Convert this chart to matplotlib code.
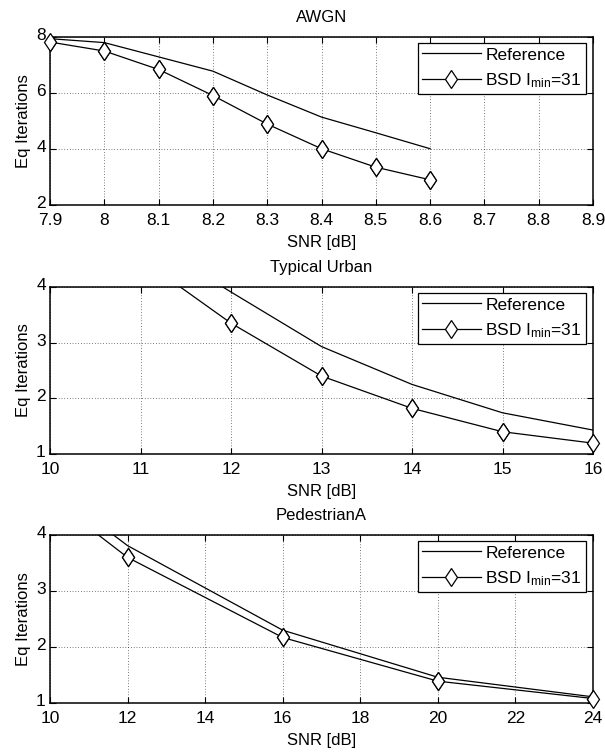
import matplotlib
matplotlib.use("Agg")
import matplotlib.pyplot as plt
import matplotlib.transforms as mtransforms
import numpy as np

plt.rcParams['font.family'] = ['Liberation Sans', 'DejaVu Sans']
plt.rcParams['mathtext.fontset'] = 'custom'
plt.rcParams['mathtext.rm'] = 'Liberation Sans'
plt.rcParams['mathtext.it'] = 'Liberation Sans'
plt.rcParams['font.size'] = 12

# ---- Data ----
awgn_snr = [7.9, 8.0, 8.1, 8.2, 8.3, 8.4, 8.5, 8.6]
awgn_ref = [7.94, 7.80, 7.29, 6.78, 5.93, 5.14, 4.58, 4.01]
awgn_bsd = [7.82, 7.50, 6.84, 5.91, 4.89, 4.01, 3.35, 2.90]

tu_snr = [11, 12, 13, 14, 15, 16]
tu_ref = [4.91, 3.91, 2.93, 2.25, 1.74, 1.43]
tu_bsd = [4.51, 3.35, 2.40, 1.82, 1.40, 1.195]

pa_snr = [8, 12, 16, 20, 24]
pa_ref = [5.90, 3.81, 2.30, 1.46, 1.11]
pa_bsd = [5.73, 3.60, 2.17, 1.39, 1.08]

titles = ['AWGN', 'Typical Urban', 'PedestrianA']
xlims = [(7.9, 8.9), (10, 16), (10, 24)]
xticks = [np.round(np.arange(7.9, 8.91, 0.1), 1), np.arange(10, 17, 1), np.arange(10, 25, 2)]
xticklabels = [['7.9', '8', '8.1', '8.2', '8.3', '8.4', '8.5', '8.6', '8.7', '8.8', '8.9'],
               [str(v) for v in range(10, 17)],
               [str(v) for v in range(10, 25, 2)]]
ylims = [(2, 8), (1, 4), (1, 4)]
yticks = [[2, 4, 6, 8], [1, 2, 3, 4], [1, 2, 3, 4]]

datasets = [(awgn_snr, awgn_ref, awgn_bsd), (tu_snr, tu_ref, tu_bsd), (pa_snr, pa_ref, pa_bsd)]

fig = plt.figure(figsize=(6.05, 7.53), dpi=100)
W, H = 605.0, 753.0
left_px, right_px = 50, 593
panels_px = [(37, 205), (287, 454), (535, 703)]

for i, (top, bot) in enumerate(panels_px):
    ax = fig.add_axes([left_px / W, 1 - bot / H, (right_px - left_px) / W, (bot - top) / H])
    x, ref, bsd = datasets[i]
    x = np.array(x); ref = np.array(ref); bsd = np.array(bsd)
    ax.plot(x, ref, color='black', lw=0.9, label='Reference')
    ax.plot(x, bsd, color='black', lw=0.9, marker='d', ms=9.5, mfc='white', mec='black',
            mew=0.9, label=r'BSD I$_{\rm min}$=31')
    vis = bsd <= ylims[i][1]
    ax.plot(x[vis], bsd[vis], ls='none', marker='d', ms=9.5, mfc='white', mec='black',
            mew=0.9, clip_on=False, zorder=5)
    ax.set_xlim(*xlims[i])
    ax.set_ylim(*ylims[i])
    ax.set_xticks(xticks[i])
    ax.set_xticklabels(xticklabels[i])
    ax.set_yticks(yticks[i])
    ax.grid(True, ls=(0, (1, 3)), color='black', lw=0.5)
    ax.tick_params(direction='in', top=True, right=True, length=4, width=0.8,
                   labelsize=12.5)
    ax.tick_params(axis='x', pad=5.5)
    ax.tick_params(axis='y', pad=3)
    shift = mtransforms.ScaledTranslation(0, 3 / 100.0, fig.dpi_scale_trans)
    for lab in ax.get_yticklabels():
        lab.set_transform(lab.get_transform() + shift)
    for s in ax.spines.values():
        s.set_linewidth(1.1)
    ax.set_title(titles[i], fontsize=12, pad=11)
    ax.set_xlabel('SNR [dB]', fontsize=12, labelpad=5)
    ax.set_ylabel('Eq Iterations', fontsize=12, labelpad=4)
    leg = ax.legend(loc='upper right', bbox_to_anchor=(0.987, 0.964), borderaxespad=0,
                    fancybox=False, framealpha=1, edgecolor='black', fontsize=12.5,
                    handlelength=3.4, handletextpad=0.25, borderpad=0.25, labelspacing=0.5)
    leg.get_frame().set_linewidth(0.9)

fig.savefig('out.png', dpi=100)
